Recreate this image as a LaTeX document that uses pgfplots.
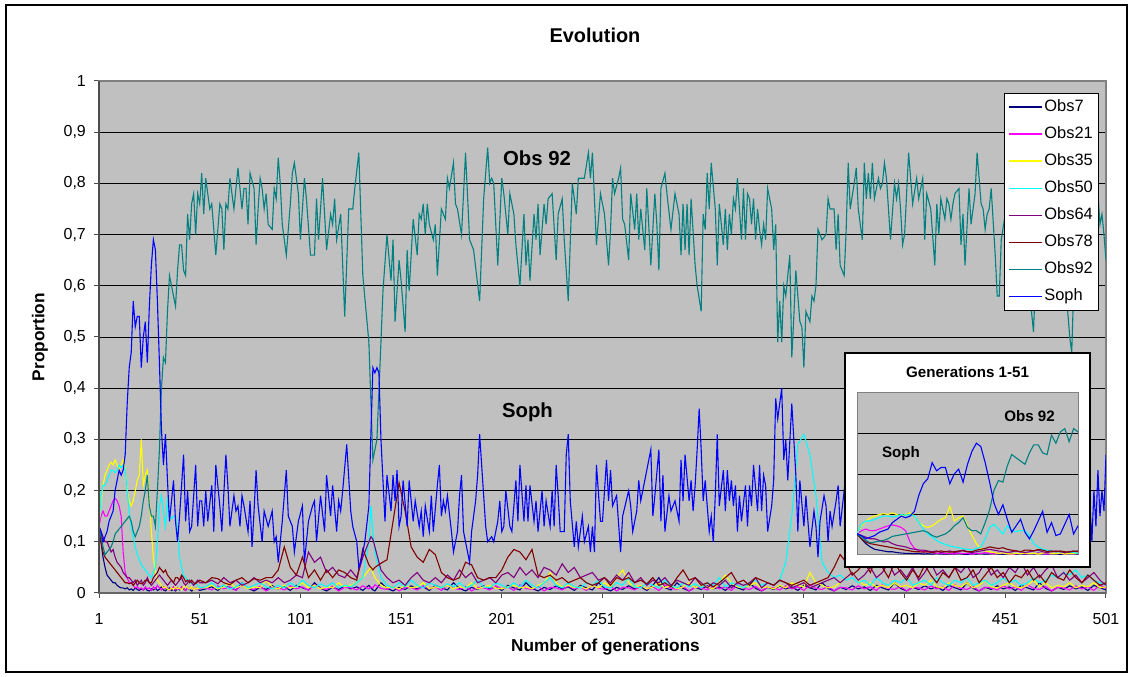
\documentclass[border=0pt]{standalone}
\usepackage{fontspec}
\setmainfont{Liberation Sans}
\usepackage{pgfplots}
\usepackage{pgfplotstable}
\pgfplotsset{compat=1.18}

\definecolor{cNavy}{RGB}{0,0,128}
\definecolor{cMag}{RGB}{255,0,255}
\definecolor{cYel}{RGB}{255,255,0}
\definecolor{cCya}{RGB}{0,255,255}
\definecolor{cPur}{RGB}{128,0,128}
\definecolor{cRed}{RGB}{128,0,0}
\definecolor{cTeal}{RGB}{0,128,128}
\definecolor{cBlue}{RGB}{0,0,255}
\definecolor{cBack}{RGB}{192,192,192}

% Obs92
\pgfplotstableread[row sep=\\]{
g v\\
1 0.13\\2 0.11\\3 0.09\\4 0.075\\5 0.08\\6 0.085\\7 0.09\\8 0.10\\9 0.115\\10 0.12\\
11 0.125\\12 0.13\\13 0.135\\14 0.14\\15 0.145\\16 0.15\\17 0.14\\18 0.12\\19 0.11\\20 0.12\\
21 0.13\\22 0.15\\23 0.18\\24 0.20\\25 0.23\\26 0.17\\27 0.15\\28 0.15\\29 0.13\\30 0.20\\
31 0.28\\32 0.40\\33 0.46\\34 0.45\\35 0.55\\36 0.62\\37 0.60\\38 0.58\\39 0.56\\40 0.63\\
41 0.68\\42 0.68\\43 0.63\\44 0.62\\45 0.74\\46 0.69\\47 0.76\\48 0.78\\49 0.70\\50 0.78\\
51 0.76\\52 0.82\\53 0.74\\54 0.81\\56 0.75\\57 0.76\\58 0.71\\59 0.66\\61 0.76\\62 0.75\\
63 0.67\\64 0.76\\65 0.75\\66 0.81\\68 0.75\\70 0.83\\71 0.79\\72 0.75\\73 0.79\\74 0.79\\
75 0.72\\76 0.82\\78 0.79\\79 0.68\\80 0.75\\81 0.81\\82 0.79\\83 0.75\\84 0.78\\85 0.72\\
87 0.71\\88 0.79\\89 0.77\\90 0.85\\91 0.80\\92 0.72\\94 0.66\\96 0.76\\97 0.82\\98 0.84\\
100 0.78\\101 0.69\\103 0.81\\104 0.77\\106 0.66\\108 0.66\\109 0.77\\110 0.69\\112 0.81\\114 0.67\\
116 0.74\\117 0.72\\118 0.77\\119 0.69\\121 0.74\\123 0.54\\125 0.75\\127 0.75\\128 0.79\\130 0.86\\
132 0.62\\135 0.49\\137 0.26\\139 0.30\\141 0.49\\142 0.59\\144 0.70\\146 0.61\\147 0.69\\148 0.53\\
150 0.65\\151 0.61\\153 0.51\\154 0.67\\155 0.59\\157 0.73\\159 0.66\\160 0.74\\161 0.73\\162 0.76\\
163 0.70\\164 0.76\\165 0.72\\167 0.69\\168 0.72\\169 0.62\\171 0.75\\173 0.73\\174 0.81\\175 0.79\\
177 0.84\\178 0.76\\179 0.75\\181 0.70\\183 0.86\\185 0.69\\187 0.67\\190 0.57\\192 0.77\\194 0.87\\
195 0.80\\196 0.81\\197 0.80\\199 0.64\\201 0.81\\202 0.78\\204 0.70\\205 0.78\\207 0.74\\208 0.68\\
210 0.60\\212 0.74\\213 0.64\\214 0.69\\215 0.61\\217 0.74\\218 0.69\\219 0.76\\220 0.66\\222 0.76\\
223 0.72\\224 0.77\\226 0.78\\228 0.65\\229 0.74\\231 0.77\\232 0.69\\234 0.57\\236 0.80\\238 0.74\\
239 0.81\\241 0.81\\242 0.81\\244 0.86\\245 0.81\\246 0.86\\248 0.68\\250 0.78\\252 0.74\\254 0.64\\
255 0.71\\256 0.81\\257 0.78\\259 0.81\\260 0.83\\261 0.73\\262 0.72\\264 0.65\\265 0.78\\267 0.71\\
268 0.78\\269 0.69\\270 0.75\\272 0.67\\273 0.79\\275 0.64\\277 0.78\\278 0.72\\279 0.63\\280 0.79\\
282 0.82\\283 0.78\\285 0.71\\287 0.78\\289 0.74\\290 0.66\\291 0.76\\292 0.67\\293 0.76\\294 0.66\\
295 0.77\\297 0.64\\298 0.60\\300 0.55\\301 0.74\\302 0.71\\303 0.82\\304 0.75\\305 0.84\\307 0.75\\
308 0.64\\309 0.76\\311 0.68\\312 0.75\\313 0.67\\314 0.74\\315 0.70\\316 0.77\\317 0.75\\318 0.81\\
320 0.69\\321 0.79\\322 0.69\\323 0.78\\324 0.77\\325 0.72\\326 0.77\\327 0.69\\328 0.75\\329 0.71\\
330 0.68\\331 0.72\\332 0.69\\333 0.79\\335 0.75\\336 0.67\\337 0.72\\338 0.49\\339 0.57\\340 0.49\\
341 0.60\\342 0.58\\344 0.66\\345 0.46\\346 0.54\\347 0.63\\349 0.53\\350 0.52\\351 0.44\\352 0.55\\
354 0.53\\355 0.58\\356 0.57\\357 0.60\\358 0.71\\360 0.69\\362 0.70\\363 0.77\\364 0.75\\366 0.75\\
367 0.67\\368 0.74\\369 0.64\\371 0.62\\372 0.71\\373 0.84\\374 0.75\\376 0.80\\377 0.83\\378 0.75\\
380 0.69\\381 0.84\\382 0.77\\383 0.82\\384 0.77\\385 0.84\\386 0.77\\388 0.81\\389 0.79\\390 0.80\\
391 0.84\\392 0.81\\393 0.75\\394 0.69\\396 0.80\\397 0.77\\398 0.80\\399 0.75\\400 0.68\\401 0.70\\
403 0.86\\404 0.81\\405 0.76\\407 0.81\\408 0.77\\409 0.79\\410 0.81\\411 0.69\\412 0.78\\414 0.75\\
416 0.64\\417 0.76\\418 0.70\\419 0.77\\421 0.73\\422 0.77\\423 0.76\\424 0.73\\425 0.76\\426 0.78\\
428 0.79\\429 0.68\\430 0.74\\431 0.64\\433 0.79\\434 0.72\\435 0.75\\436 0.78\\437 0.86\\439 0.76\\
440 0.75\\441 0.71\\442 0.74\\443 0.75\\444 0.79\\446 0.66\\447 0.58\\448 0.58\\449 0.69\\451 0.74\\
452 0.64\\453 0.69\\454 0.80\\456 0.79\\457 0.72\\458 0.61\\459 0.75\\461 0.80\\462 0.70\\463 0.61\\
464 0.55\\465 0.51\\466 0.61\\468 0.72\\470 0.80\\472 0.68\\474 0.77\\476 0.82\\478 0.70\\480 0.75\\
482 0.55\\483 0.50\\484 0.47\\485 0.60\\487 0.75\\489 0.80\\491 0.72\\493 0.78\\495 0.70\\497 0.78\\
498 0.72\\499 0.74\\500 0.70\\501 0.65\\
}\tabObs

% Soph
\pgfplotstableread[row sep=\\]{
g v\\
1 0.13\\2 0.12\\3 0.10\\4 0.11\\5 0.12\\6 0.14\\7 0.15\\8 0.16\\9 0.20\\10 0.22\\
11 0.24\\12 0.23\\13 0.24\\14 0.27\\15 0.37\\16 0.44\\17 0.47\\18 0.57\\19 0.52\\20 0.54\\
21 0.54\\22 0.44\\23 0.50\\24 0.53\\25 0.45\\26 0.56\\27 0.64\\28 0.69\\29 0.67\\30 0.57\\
31 0.45\\32 0.32\\33 0.25\\34 0.31\\35 0.22\\36 0.14\\37 0.18\\38 0.22\\39 0.14\\40 0.10\\
41 0.15\\42 0.21\\43 0.27\\44 0.14\\45 0.20\\46 0.12\\47 0.13\\48 0.19\\49 0.25\\50 0.13\\
51 0.18\\52 0.18\\53 0.13\\54 0.20\\55 0.14\\57 0.21\\58 0.12\\59 0.25\\61 0.17\\62 0.12\\
64 0.27\\65 0.21\\66 0.13\\68 0.19\\69 0.16\\70 0.17\\71 0.13\\72 0.19\\73 0.17\\75 0.12\\
76 0.18\\77 0.09\\78 0.16\\79 0.24\\80 0.17\\82 0.10\\83 0.16\\85 0.13\\87 0.16\\88 0.10\\
89 0.11\\90 0.06\\91 0.10\\92 0.14\\94 0.24\\95 0.15\\97 0.13\\98 0.08\\100 0.14\\102 0.17\\
103 0.06\\105 0.14\\107 0.17\\108 0.18\\109 0.10\\111 0.19\\113 0.12\\114 0.23\\116 0.15\\117 0.21\\
119 0.12\\120 0.18\\121 0.16\\122 0.20\\124 0.29\\126 0.16\\127 0.13\\129 0.10\\130 0.05\\131 0.06\\
133 0.10\\135 0.17\\136 0.31\\137 0.44\\138 0.43\\139 0.44\\140 0.43\\141 0.30\\143 0.14\\144 0.23\\
146 0.16\\147 0.23\\148 0.18\\149 0.24\\150 0.13\\151 0.15\\152 0.22\\154 0.13\\155 0.22\\157 0.14\\
158 0.18\\160 0.13\\161 0.16\\162 0.11\\163 0.17\\165 0.12\\166 0.19\\167 0.12\\169 0.21\\170 0.25\\
171 0.15\\172 0.18\\173 0.16\\174 0.19\\176 0.12\\177 0.08\\179 0.12\\180 0.19\\181 0.23\\182 0.12\\
184 0.08\\185 0.06\\186 0.12\\188 0.18\\189 0.23\\190 0.31\\192 0.19\\193 0.13\\194 0.10\\196 0.11\\
197 0.10\\199 0.14\\200 0.18\\201 0.12\\202 0.13\\203 0.20\\205 0.13\\206 0.12\\208 0.22\\209 0.14\\
210 0.25\\212 0.14\\213 0.21\\214 0.14\\215 0.21\\217 0.14\\218 0.18\\219 0.12\\221 0.20\\222 0.13\\
223 0.18\\225 0.13\\226 0.20\\227 0.13\\228 0.25\\229 0.19\\230 0.12\\232 0.12\\233 0.27\\234 0.31\\
235 0.18\\237 0.09\\238 0.14\\239 0.09\\241 0.15\\242 0.10\\244 0.13\\245 0.08\\246 0.13\\247 0.08\\
248 0.25\\250 0.14\\251 0.14\\253 0.26\\254 0.18\\255 0.24\\256 0.17\\258 0.19\\260 0.08\\261 0.15\\
264 0.20\\265 0.17\\266 0.12\\268 0.16\\269 0.22\\270 0.18\\272 0.22\\273 0.24\\275 0.28\\276 0.15\\
277 0.19\\279 0.28\\280 0.14\\281 0.23\\282 0.12\\284 0.19\\285 0.16\\287 0.18\\289 0.14\\290 0.26\\
291 0.18\\292 0.27\\294 0.18\\295 0.22\\296 0.16\\297 0.21\\298 0.28\\299 0.36\\300 0.28\\301 0.18\\
302 0.22\\304 0.12\\305 0.15\\306 0.10\\307 0.19\\308 0.31\\309 0.17\\311 0.24\\312 0.16\\313 0.24\\
314 0.18\\315 0.22\\316 0.17\\317 0.21\\318 0.12\\319 0.19\\320 0.14\\322 0.21\\323 0.13\\324 0.21\\
325 0.17\\326 0.25\\328 0.16\\329 0.25\\330 0.16\\331 0.23\\332 0.21\\333 0.12\\335 0.17\\336 0.22\\
337 0.38\\338 0.34\\340 0.40\\341 0.26\\342 0.30\\343 0.22\\345 0.37\\347 0.23\\348 0.12\\349 0.22\\
351 0.13\\352 0.19\\353 0.14\\354 0.09\\356 0.16\\357 0.13\\358 0.07\\359 0.14\\361 0.19\\362 0.17\\
363 0.10\\364 0.16\\365 0.13\\367 0.18\\368 0.21\\369 0.13\\371 0.20\\373 0.15\\375 0.24\\377 0.12\\
379 0.19\\381 0.14\\383 0.22\\385 0.17\\387 0.11\\389 0.21\\391 0.16\\393 0.26\\395 0.13\\397 0.18\\
399 0.22\\401 0.12\\403 0.19\\405 0.15\\407 0.24\\409 0.14\\411 0.20\\413 0.11\\415 0.18\\417 0.23\\
419 0.15\\421 0.19\\423 0.13\\425 0.25\\427 0.17\\429 0.12\\431 0.21\\433 0.16\\435 0.20\\437 0.13\\
439 0.18\\441 0.24\\443 0.14\\445 0.19\\447 0.12\\449 0.22\\451 0.16\\453 0.20\\455 0.13\\457 0.25\\
459 0.17\\461 0.12\\463 0.20\\465 0.15\\467 0.22\\469 0.14\\471 0.18\\473 0.12\\475 0.21\\477 0.16\\
479 0.23\\481 0.13\\483 0.19\\485 0.15\\487 0.22\\489 0.12\\491 0.20\\493 0.18\\494 0.10\\495 0.20\\
496 0.13\\497 0.24\\498 0.15\\499 0.20\\500 0.16\\501 0.27\\
}\tabSoph

% low series: n=Obs7 m=Obs21 y=Obs35 c=Obs50 p=Obs64 r=Obs78
\pgfplotstableread[row sep=\\]{
g n m y c p r\\
1 0.13 0.13 0.13 0.13 0.13 0.13\\
2 0.10 0.15 0.18 0.19 0.12 0.10\\
3 0.07 0.16 0.21 0.21 0.11 0.08\\
4 0.05 0.15 0.23 0.21 0.10 0.07\\
5 0.035 0.15 0.24 0.22 0.10 0.065\\
6 0.03 0.16 0.25 0.23 0.09 0.06\\
7 0.025 0.17 0.255 0.24 0.08 0.055\\
8 0.02 0.18 0.25 0.24 0.085 0.05\\
9 0.02 0.185 0.26 0.235 0.07 0.045\\
10 0.015 0.18 0.25 0.24 0.06 0.04\\
11 0.012 0.17 0.24 0.25 0.055 0.035\\
12 0.01 0.15 0.25 0.245 0.05 0.03\\
13 0.01 0.08 0.26 0.25 0.04 0.025\\
14 0.008 0.04 0.24 0.24 0.035 0.02\\
15 0.01 0.03 0.20 0.20 0.03 0.02\\
16 0.006 0.02 0.18 0.16 0.03 0.018\\
17 0.008 0.02 0.17 0.13 0.025 0.02\\
18 0.005 0.015 0.18 0.11 0.02 0.015\\
19 0.01 0.01 0.20 0.09 0.025 0.02\\
20 0.007 0.012 0.22 0.075 0.015 0.025\\
21 0.005 0.008 0.23 0.065 0.02 0.02\\
22 0.008 0.01 0.30 0.055 0.025 0.018\\
23 0.006 0.006 0.21 0.05 0.015 0.02\\
24 0.01 0.012 0.23 0.045 0.02 0.025\\
25 0.005 0.008 0.24 0.04 0.03 0.025\\
26 0.004 0.01 0.18 0.035 0.02 0.02\\
27 0.008 0.005 0.12 0.03 0.015 0.02\\
28 0.006 0.012 0.07 0.04 0.02 0.03\\
29 0.01 0.008 0.04 0.05 0.025 0.035\\
30 0.005 0.015 0.025 0.10 0.03 0.04\\
31 0.007 0.01 0.02 0.17 0.035 0.05\\
32 0.012 0.006 0.015 0.19 0.03 0.045\\
33 0.006 0.012 0.01 0.16 0.025 0.04\\
34 0.004 0.008 0.012 0.13 0.02 0.045\\
35 0.008 0.01 0.008 0.18 0.015 0.035\\
36 0.01 0.005 0.006 0.15 0.02 0.03\\
37 0.005 0.008 0.01 0.145 0.025 0.025\\
38 0.007 0.012 0.007 0.15 0.02 0.02\\
39 0.004 0.006 0.012 0.15 0.015 0.03\\
40 0.009 0.01 0.008 0.12 0.02 0.03\\
41 0.006 0.007 0.01 0.07 0.025 0.025\\
42 0.012 0.012 0.006 0.05 0.03 0.035\\
43 0.008 0.009 0.012 0.035 0.02 0.03\\
44 0.005 0.005 0.015 0.03 0.015 0.022\\
45 0.01 0.01 0.01 0.025 0.02 0.025\\
46 0.007 0.008 0.008 0.02 0.025 0.02\\
47 0.004 0.012 0.012 0.02 0.02 0.025\\
48 0.006 0.006 0.006 0.015 0.015 0.02\\
49 0.01 0.01 0.01 0.02 0.02 0.018\\
50 0.008 0.007 0.008 0.015 0.025 0.022\\
51 0.005 0.009 0.01 0.01 0.02 0.025\\
54 0.008 0.01 0.01 0.012 0.02 0.02\\
57 0.012 0.006 0.015 0.02 0.025 0.03\\
60 0.005 0.014 0.008 0.01 0.018 0.028\\
63 0.015 0.008 0.012 0.015 0.03 0.02\\
66 0.01 0.012 0.02 0.008 0.02 0.016\\
69 0.006 0.005 0.01 0.012 0.025 0.025\\
72 0.02 0.016 0.015 0.02 0.015 0.03\\
75 0.009 0.009 0.008 0.01 0.02 0.02\\
78 0.004 0.007 0.012 0.015 0.03 0.028\\
81 0.011 0.013 0.01 0.02 0.02 0.025\\
84 0.007 0.004 0.025 0.012 0.025 0.03\\
87 0.014 0.011 0.012 0.008 0.02 0.03\\
90 0.008 0.01 0.008 0.015 0.03 0.045\\
93 0.012 0.006 0.015 0.01 0.02 0.09\\
96 0.005 0.014 0.01 0.02 0.025 0.05\\
99 0.015 0.008 0.012 0.012 0.035 0.035\\
102 0.01 0.012 0.02 0.025 0.03 0.07\\
105 0.006 0.005 0.01 0.015 0.08 0.03\\
108 0.02 0.016 0.015 0.01 0.06 0.045\\
111 0.009 0.009 0.008 0.018 0.07 0.025\\
114 0.004 0.007 0.012 0.012 0.04 0.045\\
117 0.011 0.013 0.01 0.02 0.05 0.03\\
120 0.007 0.004 0.02 0.01 0.035 0.045\\
123 0.014 0.011 0.012 0.015 0.03 0.04\\
126 0.008 0.01 0.015 0.012 0.045 0.03\\
129 0.012 0.006 0.02 0.02 0.03 0.025\\
132 0.005 0.014 0.03 0.03 0.07 0.086\\
135 0.015 0.008 0.045 0.10 0.10 0.055\\
136 0.01 0.012 0.05 0.17 0.11 0.05\\
137 0.006 0.01 0.04 0.12 0.105 0.045\\
138 0.004 0.016 0.03 0.08 0.09 0.05\\
141 0.02 0.009 0.015 0.03 0.045 0.058\\
144 0.009 0.007 0.01 0.015 0.03 0.065\\
147 0.004 0.013 0.012 0.01 0.02 0.14\\
150 0.011 0.004 0.008 0.02 0.025 0.215\\
153 0.007 0.011 0.015 0.012 0.015 0.16\\
156 0.014 0.01 0.01 0.025 0.03 0.09\\
159 0.008 0.006 0.012 0.015 0.04 0.07\\
162 0.012 0.014 0.02 0.01 0.025 0.06\\
165 0.005 0.008 0.008 0.02 0.02 0.085\\
168 0.015 0.012 0.012 0.015 0.03 0.075\\
171 0.01 0.005 0.01 0.01 0.02 0.04\\
174 0.006 0.016 0.015 0.018 0.035 0.03\\
177 0.02 0.009 0.008 0.012 0.025 0.025\\
180 0.009 0.007 0.012 0.02 0.045 0.03\\
183 0.004 0.013 0.01 0.01 0.03 0.06\\
186 0.011 0.004 0.02 0.015 0.04 0.055\\
189 0.007 0.011 0.008 0.025 0.02 0.03\\
192 0.014 0.01 0.012 0.012 0.025 0.025\\
195 0.008 0.006 0.015 0.01 0.03 0.03\\
198 0.012 0.014 0.01 0.02 0.02 0.03\\
201 0.005 0.008 0.008 0.015 0.035 0.045\\
204 0.015 0.012 0.012 0.01 0.04 0.07\\
207 0.01 0.005 0.015 0.02 0.03 0.085\\
210 0.006 0.016 0.01 0.012 0.05 0.08\\
213 0.02 0.009 0.012 0.025 0.035 0.065\\
216 0.009 0.007 0.008 0.015 0.045 0.085\\
219 0.004 0.013 0.015 0.01 0.03 0.035\\
222 0.011 0.004 0.02 0.02 0.05 0.03\\
225 0.007 0.011 0.04 0.03 0.045 0.035\\
228 0.014 0.01 0.02 0.015 0.035 0.025\\
231 0.008 0.006 0.012 0.01 0.057 0.03\\
234 0.012 0.014 0.015 0.02 0.04 0.02\\
237 0.005 0.008 0.01 0.012 0.05 0.025\\
240 0.015 0.012 0.012 0.01 0.03 0.03\\
243 0.01 0.005 0.008 0.02 0.035 0.02\\
246 0.006 0.016 0.015 0.015 0.04 0.015\\
249 0.02 0.009 0.01 0.025 0.025 0.02\\
252 0.009 0.007 0.02 0.012 0.03 0.03\\
255 0.004 0.013 0.012 0.01 0.02 0.015\\
258 0.011 0.004 0.03 0.02 0.035 0.03\\
261 0.007 0.011 0.045 0.015 0.025 0.025\\
264 0.014 0.01 0.02 0.03 0.04 0.03\\
267 0.008 0.006 0.012 0.012 0.02 0.02\\
270 0.012 0.014 0.015 0.01 0.03 0.025\\
273 0.005 0.008 0.008 0.02 0.015 0.018\\
276 0.015 0.012 0.012 0.015 0.025 0.03\\
279 0.03 0.005 0.02 0.01 0.02 0.015\\
282 0.01 0.016 0.01 0.025 0.03 0.02\\
285 0.006 0.009 0.015 0.015 0.015 0.012\\
288 0.02 0.007 0.008 0.01 0.025 0.03\\
291 0.009 0.013 0.012 0.02 0.02 0.045\\
294 0.004 0.004 0.02 0.012 0.015 0.025\\
297 0.011 0.011 0.01 0.018 0.03 0.03\\
300 0.007 0.01 0.015 0.01 0.02 0.015\\
303 0.014 0.006 0.012 0.02 0.01 0.02\\
306 0.008 0.014 0.008 0.015 0.02 0.012\\
309 0.012 0.008 0.02 0.03 0.015 0.02\\
312 0.005 0.012 0.035 0.012 0.025 0.03\\
315 0.015 0.005 0.02 0.02 0.01 0.04\\
318 0.01 0.016 0.012 0.015 0.02 0.02\\
321 0.006 0.009 0.01 0.01 0.015 0.025\\
324 0.02 0.007 0.015 0.02 0.02 0.015\\
327 0.009 0.013 0.02 0.025 0.03 0.03\\
330 0.004 0.004 0.01 0.015 0.01 0.025\\
333 0.011 0.011 0.012 0.02 0.02 0.02\\
336 0.007 0.01 0.008 0.015 0.015 0.015\\
339 0.014 0.006 0.015 0.025 0.025 0.025\\
342 0.008 0.014 0.01 0.06 0.02 0.02\\
345 0.012 0.008 0.02 0.15 0.01 0.015\\
348 0.005 0.012 0.015 0.29 0.015 0.02\\
351 0.015 0.005 0.012 0.31 0.02 0.025\\
354 0.01 0.016 0.04 0.27 0.01 0.015\\
357 0.006 0.009 0.02 0.19 0.015 0.02\\
360 0.02 0.007 0.015 0.06 0.02 0.025\\
363 0.009 0.013 0.01 0.04 0.025 0.03\\
366 0.004 0.004 0.012 0.03 0.03 0.05\\
369 0.011 0.011 0.02 0.035 0.02 0.075\\
372 0.007 0.01 0.03 0.025 0.03 0.06\\
375 0.014 0.006 0.04 0.03 0.04 0.035\\
378 0.008 0.014 0.025 0.02 0.025 0.045\\
381 0.012 0.008 0.015 0.025 0.035 0.06\\
384 0.005 0.012 0.02 0.015 0.05 0.04\\
387 0.015 0.005 0.012 0.03 0.03 0.07\\
390 0.01 0.016 0.015 0.02 0.04 0.05\\
393 0.006 0.009 0.01 0.015 0.06 0.03\\
396 0.02 0.007 0.02 0.025 0.035 0.06\\
399 0.009 0.013 0.012 0.02 0.045 0.04\\
402 0.004 0.004 0.015 0.03 0.03 0.025\\
405 0.011 0.011 0.01 0.015 0.05 0.045\\
408 0.007 0.01 0.02 0.02 0.025 0.03\\
411 0.014 0.006 0.015 0.025 0.04 0.055\\
414 0.008 0.014 0.025 0.015 0.06 0.035\\
417 0.012 0.008 0.012 0.03 0.035 0.02\\
420 0.005 0.012 0.01 0.02 0.045 0.04\\
423 0.015 0.005 0.02 0.015 0.03 0.03\\
426 0.01 0.016 0.015 0.025 0.05 0.05\\
429 0.006 0.009 0.012 0.02 0.04 0.025\\
432 0.02 0.007 0.02 0.03 0.055 0.03\\
435 0.009 0.013 0.01 0.015 0.03 0.045\\
438 0.004 0.004 0.015 0.02 0.04 0.02\\
441 0.011 0.011 0.025 0.025 0.06 0.035\\
444 0.007 0.01 0.012 0.015 0.035 0.05\\
447 0.014 0.006 0.01 0.02 0.045 0.03\\
450 0.008 0.014 0.015 0.03 0.03 0.04\\
453 0.012 0.008 0.02 0.02 0.05 0.02\\
456 0.005 0.012 0.012 0.025 0.04 0.035\\
459 0.015 0.005 0.01 0.015 0.06 0.03\\
462 0.01 0.016 0.015 0.02 0.035 0.045\\
465 0.006 0.009 0.025 0.03 0.05 0.025\\
468 0.02 0.007 0.012 0.02 0.03 0.035\\
471 0.009 0.013 0.02 0.025 0.045 0.02\\
474 0.004 0.004 0.01 0.035 0.055 0.04\\
477 0.011 0.011 0.015 0.03 0.03 0.03\\
480 0.007 0.01 0.012 0.04 0.04 0.025\\
483 0.014 0.006 0.02 0.035 0.025 0.045\\
486 0.008 0.014 0.01 0.045 0.035 0.03\\
489 0.012 0.008 0.015 0.03 0.02 0.02\\
492 0.005 0.012 0.012 0.035 0.03 0.035\\
495 0.015 0.005 0.02 0.025 0.04 0.025\\
498 0.01 0.016 0.01 0.02 0.025 0.015\\
501 0.006 0.009 0.012 0.015 0.015 0.02\\
}\tabLow

\begin{document}
\begin{tikzpicture}[x=1bp,y=1bp]
\fill[white] (0,0) rectangle (1132,677);
\path[use as bounding box] (0,0) rectangle (1132,677);
\draw[black, line width=1.2bp] (6,5) rectangle (1127,672);

\begin{axis}[
  at={(99bp,84bp)}, anchor=south west,
  scale only axis, width=1007bp, height=512bp,
  xmin=1, xmax=501, ymin=0, ymax=1,
  xtick={1,51,101,151,201,251,301,351,401,451,501},
  xticklabels={1,51,101,151,201,251,301,351,401,451,501},
  ytick={0,0.1,0.2,0.3,0.4,0.5,0.6,0.7,0.8,0.9,1},
  yticklabels={0,{0,1},{0,2},{0,3},{0,4},{0,5},{0,6},{0,7},{0,8},{0,9},1},
  tick pos=left, tick align=outside, major tick length=5bp,
  tick style={black!70, line width=1bp},
  tick label style={font=\fontsize{16}{19}\selectfont},
  xticklabel style={anchor=north, inner sep=0pt, yshift=-15bp},
  yticklabel style={anchor=east, inner sep=0pt, xshift=-8bp},
  axis background/.style={fill=cBack},
  ymajorgrids, major grid style={black, line width=0.9bp},
  axis line style={draw=black!50, line width=1.2bp},
  every axis plot/.append style={no marks, line width=1.1bp},
  legend style={at={(0.8987,0.9766)}, anchor=north west, draw=black, line width=0.8bp,
    fill=white, font=\fontsize{16.5}{19}\selectfont, row sep=8.6bp,
    inner xsep=4bp, inner ysep=4.4bp,
    nodes={inner sep=1.5bp, text height=12bp, text depth=3.5bp}},
  legend cell align=left,
  legend image code/.code={\draw[#1, line width=1.5bp] (1bp,0bp) -- (34bp,0bp);},
]
\addplot[cNavy] table[x=g, y=n] {\tabLow}; \addlegendentry{Obs7}
\addplot[cMag]  table[x=g, y=m] {\tabLow}; \addlegendentry{Obs21}
\addplot[cYel]  table[x=g, y=y] {\tabLow}; \addlegendentry{Obs35}
\addplot[cCya]  table[x=g, y=c] {\tabLow}; \addlegendentry{Obs50}
\addplot[cPur]  table[x=g, y=p] {\tabLow}; \addlegendentry{Obs64}
\addplot[cRed]  table[x=g, y=r] {\tabLow}; \addlegendentry{Obs78}
\addplot[cTeal] table[x=g, y=v] {\tabObs}; \addlegendentry{Obs92}
\addplot[cBlue] table[x=g, y=v] {\tabSoph}; \addlegendentry{Soph}
\end{axis}
\draw[black!70, line width=2bp] (99,84) -- (99,596);
\draw[black!60, line width=1.5bp] (99,84) -- (1106,84);

% titles and labels
\node[font=\bfseries\fontsize{20}{24}\selectfont, anchor=base] at (595,634) {Evolution};
\node[font=\bfseries\fontsize{17.3}{20}\selectfont, anchor=base] at (605.5,25) {Number of generations};
\node[font=\bfseries\fontsize{17.3}{20}\selectfont, rotate=90] at (40,340) {Proportion};
\node[font=\bfseries\fontsize{20.4}{24}\selectfont, anchor=base] at (537,511) {Obs 92};
\node[font=\bfseries\fontsize{20.4}{24}\selectfont, anchor=base] at (527.5,259) {Soph};

% inset
\fill[white] (845,110) rectangle (1090,324);
\draw[black, line width=1.4bp] (845,110) rectangle (1090,324);
\begin{axis}[
  at={(857bp,122bp)}, anchor=south west,
  scale only axis, width=221bp, height=162bp,
  xmin=1, xmax=51, ymin=0, ymax=1,
  xtick=\empty, ytick={0.25,0.5,0.75}, yticklabels={},
  major tick length=0pt, tick style={draw=none},
  axis background/.style={fill=cBack},
  ymajorgrids, major grid style={black, line width=0.9bp},
  axis line style={draw=black!50, line width=1bp},
  every axis plot/.append style={no marks, line width=1.1bp},
]
\addplot[cNavy] table[x=g, y=n] {\tabLow};
\addplot[cMag]  table[x=g, y=m] {\tabLow};
\addplot[cYel]  table[x=g, y=y] {\tabLow};
\addplot[cCya]  table[x=g, y=c] {\tabLow};
\addplot[cPur]  table[x=g, y=p] {\tabLow};
\addplot[cRed]  table[x=g, y=r] {\tabLow};
\addplot[cTeal] table[x=g, y=v] {\tabObs};
\addplot[cBlue] table[x=g, y=v] {\tabSoph};
\end{axis}
\node[font=\bfseries\fontsize{15.2}{18}\selectfont, anchor=base] at (967.5,299) {Generations 1-51};
\node[font=\bfseries\fontsize{15.2}{18}\selectfont, anchor=base] at (1029.5,255.3) {Obs 92};
\node[font=\bfseries\fontsize{15.2}{18}\selectfont, anchor=base] at (901,219) {Soph};
\end{tikzpicture}
\end{document}
